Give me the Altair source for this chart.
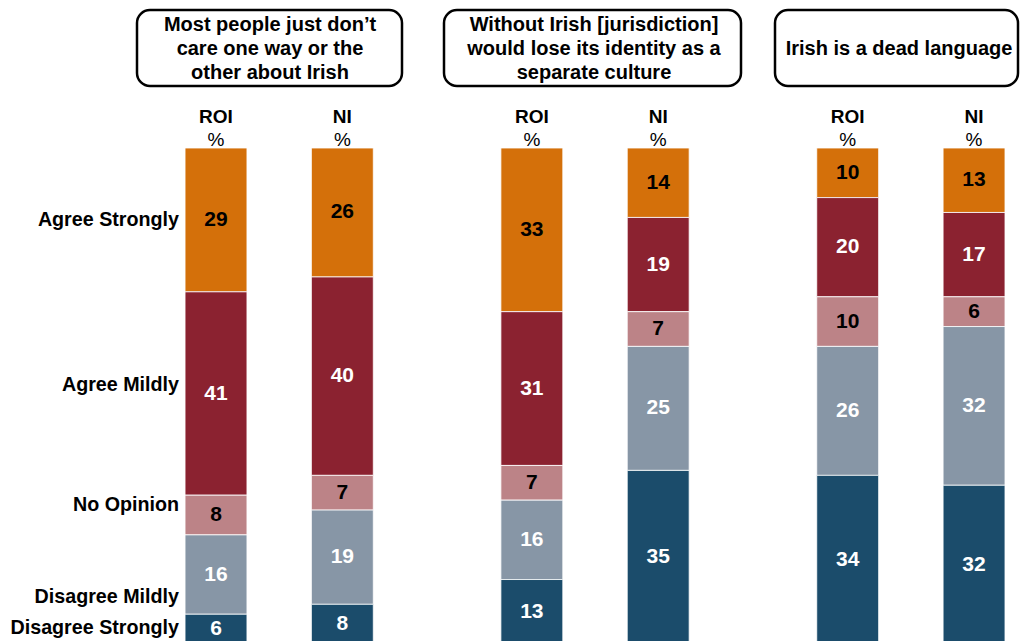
import altair as alt
import pandas as pd

# ---- data ----
statements = [
    "Most people just don\u2019t\ncare one way or the\nother about Irish",
    "Without Irish [jurisdiction]\nwould lose its identity as a\nseparate culture",
    "Irish is a dead language",
]
regions = ["ROI", "NI"]
categories = ["Agree Strongly", "Agree Mildly", "No Opinion", "Disagree Mildly", "Disagree Strongly"]
# one value per bar: (stmt1 ROI, stmt1 NI, stmt2 ROI, stmt2 NI, stmt3 ROI, stmt3 NI)
agree_strongly = [29, 26, 33, 14, 10, 13]
agree_mildly = [41, 40, 31, 19, 20, 17]
no_opinion = [8, 7, 7, 7, 10, 6]
disagree_mildly = [16, 19, 16, 25, 26, 32]
disagree_strongly = [6, 8, 13, 35, 34, 32]
row_label_pos = [14.5, 47.8, 72, 90.5, 96.8]  # where the row labels sit (percent from top)

colors = ["#D4700A", "#8B2230", "#BC8387", "#8796A6", "#1B4C6B"]
text_colors = ["black", "white", "black", "white", "white"]

series = [agree_strongly, agree_mildly, no_opinion, disagree_mildly, disagree_strongly]
rows = []
for b in range(6):
    g, r = divmod(b, 2)
    slot = 5 * g + 2 * r
    cum = 0
    for ci, cat in enumerate(categories):
        v = series[ci][b]
        rows.append(dict(slot=slot, region=regions[r], category=cat, order=ci,
                         value=v, start=cum, end=cum + v, mid=cum + v / 2,
                         label=str(v), tcolor=text_colors[ci]))
        cum += v
df = pd.DataFrame(rows)
heads = df.drop_duplicates("slot")[["slot", "region"]]
labels_df = pd.DataFrame({"label": categories, "pos": row_label_pos})

FONT = "Liberation Sans"
W = 1012
xscale = alt.Scale(domain=[-3.2927, -3.2927 + W / 63.17], nice=False, zero=False)
yscale = alt.Scale(domain=[0, 100], range=[0, 496], nice=False, zero=False)

base = alt.Chart(df)
bars = base.transform_calculate(x0="datum.slot - 0.49", x1="datum.slot + 0.49").mark_bar(
    stroke="white", strokeWidth=0.8
).encode(
    x=alt.X("x0:Q", scale=xscale, axis=None),
    x2="x1:Q",
    y=alt.Y("start:Q", scale=yscale, axis=None),
    y2="end:Q",
    color=alt.Color("category:N", scale=alt.Scale(domain=categories, range=colors), legend=None),
)
nums = base.mark_text(font=FONT, fontSize=21, fontWeight="bold", baseline="middle").encode(
    x=alt.X("slot:Q", scale=xscale),
    y=alt.Y("mid:Q", scale=yscale),
    text="label:N",
    color=alt.Color("tcolor:N", scale=None),
)
head1 = alt.Chart(heads).mark_text(font=FONT, fontSize=19, fontWeight="bold", baseline="middle", color="black").encode(
    x=alt.X("slot:Q", scale=xscale), y=alt.value(-31), text="region:N")
head2 = alt.Chart(heads).mark_text(font=FONT, fontSize=19, baseline="middle", color="black").encode(
    x=alt.X("slot:Q", scale=xscale), y=alt.value(-8), text=alt.value("%"))
rowlab = alt.Chart(labels_df).mark_text(font=FONT, fontSize=19.7, fontWeight="bold", align="right",
                                         baseline="middle", color="black").encode(
    x=alt.value(171), y=alt.Y("pos:Q", scale=yscale), text="label:N")

# statement boxes (plot pixel coordinates)
boxes = [(129, 394, 262), (436, 733, 586), (767, 1010, 891)]
layers = [bars, nums, head1, head2, rowlab]
for (bx0, bx1, tx), stmt in zip(boxes, statements):
    sdf = pd.DataFrame({"t": [stmt]})
    nlines = stmt.count("\n") + 1
    layers.append(alt.Chart(sdf).mark_rect(fill="white", stroke="black", strokeWidth=2.5,
                                           cornerRadius=13).encode(
        x=alt.value(bx0), x2=alt.value(bx1), y=alt.value(-138), y2=alt.value(-62)))
    layers.append(alt.Chart(sdf).mark_text(font=FONT, fontSize=20, fontWeight="bold", align="center",
                                           baseline="middle", lineBreak="\n", lineHeight=24,
                                           color="black").encode(
        x=alt.value(tx), y=alt.value(-99 - 12 * (nlines - 1)), text="t:N"))

chart = alt.layer(*layers).properties(
    width=W, height=493,
    autosize=alt.AutoSizeParams(type="none"),
    padding={"left": 0, "top": 140, "right": 0, "bottom": 0},
).configure_view(stroke=None)

chart.save("out.html", embed_options={"renderer": "svg", "actions": False})
